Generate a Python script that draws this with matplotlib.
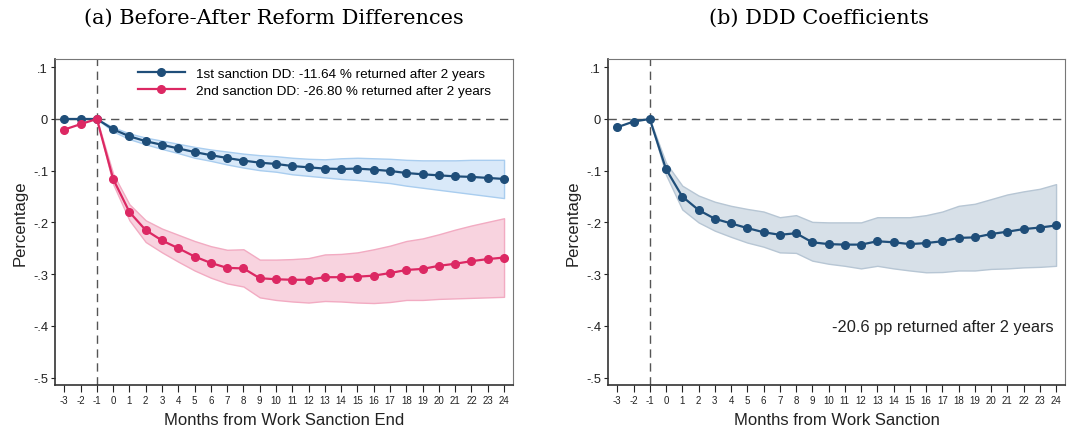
import numpy as np
import matplotlib
matplotlib.use("Agg")
import matplotlib.pyplot as plt

plt.rcParams['font.family'] = ['Liberation Sans', 'DejaVu Sans']
plt.rcParams['axes.unicode_minus'] = False

months = list(range(-3, 25))
band_months = list(range(-1, 25))

# panel (a): 1st sanction DD
dd1 = [0, 0, 0, -0.020, -0.0335, -0.043, -0.050, -0.057, -0.064, -0.070, -0.0755, -0.0805,
       -0.0845, -0.087, -0.091, -0.0935, -0.096, -0.0967, -0.096, -0.098, -0.1005, -0.1045,
       -0.107, -0.109, -0.111, -0.112, -0.114, -0.116]
dd1_hi = [0, -0.016, -0.028, -0.036, -0.042, -0.048, -0.054, -0.059, -0.063, -0.067, -0.070,
          -0.072, -0.075, -0.077, -0.078, -0.076, -0.075, -0.076, -0.077, -0.079, -0.080,
          -0.080, -0.080, -0.079, -0.079, -0.079]
dd1_lo = [0, -0.024, -0.039, -0.049, -0.058, -0.066, -0.075, -0.081, -0.088, -0.094, -0.099,
          -0.102, -0.107, -0.110, -0.113, -0.116, -0.118, -0.121, -0.124, -0.129, -0.133,
          -0.137, -0.141, -0.145, -0.149, -0.153]

# panel (a): 2nd sanction DD
dd2 = [-0.0205, -0.010, 0, -0.116, -0.180, -0.215, -0.235, -0.250, -0.266, -0.2785, -0.288,
       -0.289, -0.308, -0.310, -0.311, -0.311, -0.306, -0.306, -0.305, -0.303, -0.298, -0.292,
       -0.290, -0.284, -0.280, -0.275, -0.271, -0.268]
dd2_hi = [0, -0.106, -0.165, -0.196, -0.212, -0.224, -0.236, -0.246, -0.253, -0.252, -0.272,
          -0.272, -0.271, -0.269, -0.262, -0.261, -0.258, -0.252, -0.245, -0.236, -0.231,
          -0.223, -0.214, -0.206, -0.199, -0.192]
dd2_lo = [0, -0.126, -0.196, -0.238, -0.258, -0.276, -0.293, -0.307, -0.318, -0.324, -0.345,
          -0.350, -0.353, -0.355, -0.352, -0.353, -0.355, -0.356, -0.354, -0.350, -0.350,
          -0.348, -0.347, -0.346, -0.345, -0.344]

# panel (b): DDD coefficients
ddd = [-0.016, -0.005, 0, -0.097, -0.150, -0.176, -0.193, -0.202, -0.211, -0.219, -0.224,
       -0.221, -0.2385, -0.242, -0.243, -0.243, -0.2365, -0.2385, -0.242, -0.240, -0.2365,
       -0.230, -0.229, -0.2225, -0.218, -0.213, -0.210, -0.206]
ddd_hi = [0, -0.085, -0.129, -0.148, -0.160, -0.168, -0.174, -0.179, -0.190, -0.186, -0.199,
          -0.200, -0.200, -0.200, -0.190, -0.190, -0.190, -0.186, -0.179, -0.168, -0.164,
          -0.155, -0.146, -0.140, -0.135, -0.126]
ddd_lo = [0, -0.108, -0.175, -0.200, -0.216, -0.228, -0.239, -0.247, -0.258, -0.259, -0.274,
          -0.280, -0.284, -0.289, -0.284, -0.289, -0.293, -0.2965, -0.296, -0.293, -0.293,
          -0.290, -0.289, -0.287, -0.286, -0.284]

yticks = [0.1, 0, -0.1, -0.2, -0.3, -0.4, -0.5]
ytick_labels = ['.1', '0', '-.1', '-.2', '-.3', '-.4', '-.5']

navy = '#1f4e79'
pink = '#dc2863'

fig = plt.figure(figsize=(10.86, 4.35), dpi=100)
ax1 = fig.add_axes([55 / 1086, 49 / 435, 458 / 1086, 326 / 435])
ax2 = fig.add_axes([608 / 1086, 49 / 435, 457 / 1086, 326 / 435])


def style_axes(ax, xlabel):
    ax.set_xlim(-3.57, 24.55)
    ax.set_ylim(-0.5145, 0.116)
    ax.axhline(0, color='#555555', lw=1.0, ls=(0, (6, 4)), zorder=1)
    ax.axvline(-1, color='#555555', lw=1.0, ls=(0, (6, 4)), zorder=1)
    ax.set_yticks(yticks)
    ax.set_yticklabels(ytick_labels)
    ax.set_xticks(months)
    ax.set_xticklabels([str(m) for m in months])
    ax.tick_params(axis='y', labelsize=9.3, length=3, width=0.8, pad=2, colors='#222222')
    ax.tick_params(axis='x', labelsize=7, length=5, width=0.8, pad=2.5, colors='#222222')
    for side in ['top', 'right']:
        ax.spines[side].set_color('#777777')
        ax.spines[side].set_linewidth(0.8)
    for side in ['left', 'bottom']:
        ax.spines[side].set_color('#333333')
        ax.spines[side].set_linewidth(1.2)
    ax.set_ylabel('Percentage', fontsize=12, labelpad=4, color='#222222')
    ax.set_xlabel(xlabel, fontsize=12, labelpad=5, color='#222222')


style_axes(ax1, 'Months from Work Sanction End')
ax1.fill_between(band_months, dd1_lo, dd1_hi, facecolor='#d9e9f9', edgecolor='#a9cdef', lw=1, zorder=2)
ax1.fill_between(band_months, dd2_lo, dd2_hi, facecolor='#f8d3df', edgecolor='#f2abc2', lw=1, zorder=2)
ax1.plot(months, dd1, color=navy, lw=1.6, marker='o', ms=5.5, zorder=3,
         label='1st sanction DD: -11.64 % returned after 2 years')
ax1.plot(months, dd2, color=pink, lw=1.6, marker='o', ms=5.5, zorder=3,
         label='2nd sanction DD: -26.80 % returned after 2 years')
ax1.legend(loc='upper left', bbox_to_anchor=(0.181, 0.975), frameon=False, fontsize=9.7,
           handlelength=3.5, handletextpad=0.8, labelspacing=0.35, borderpad=0, borderaxespad=0)

style_axes(ax2, 'Months from Work Sanction')
ax2.fill_between(band_months, ddd_lo, ddd_hi, facecolor='#d7e0e8', edgecolor='#b7c6d4', lw=1, zorder=2)
ax2.plot(months, ddd, color=navy, lw=1.6, marker='o', ms=5.5, zorder=3)
ax2.text(23.85, -0.402, '-20.6 pp returned after 2 years', ha='right', va='center',
         fontsize=11.8, color='#222222')

fig.text(274 / 1086, 1 - 18 / 435, '(a) Before-After Reform Differences', ha='center', va='center',
         fontsize=15, family=['DejaVu Serif'])
fig.text(819 / 1086, 1 - 18 / 435, '(b) DDD Coefficients', ha='center', va='center',
         fontsize=15, family=['DejaVu Serif'])

fig.savefig('out.png', dpi=100)
